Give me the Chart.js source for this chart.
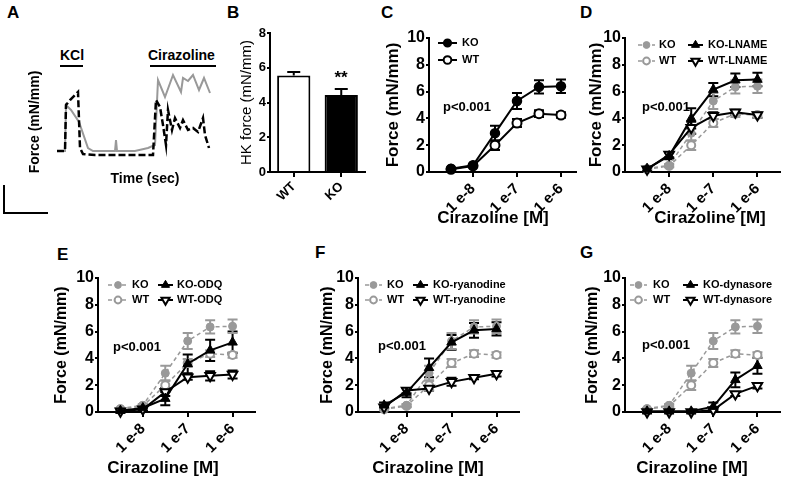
<!DOCTYPE html>
<html>
<head>
<meta charset="utf-8">
<script src="https://cdn.jsdelivr.net/npm/chart.js@4.4.1/dist/chart.umd.min.js"></script>
<style>
  body { margin: 0; width: 787px; height: 480px; position: relative; overflow: hidden; background: #fff;
         font-family: Arial, "Liberation Sans", sans-serif; }
  canvas { position: absolute; }
  .tag { position: absolute; font-weight: bold; font-size: 17px; line-height: 1; }
  .stim { position: absolute; font-weight: bold; font-size: 14px; line-height: 1; }
  .rule { position: absolute; background: #000; }
</style>
</head>
<body>
<div class="tag" style="left:7px;top:4px">A</div>
<div class="tag" style="left:227px;top:4px">B</div>
<div class="tag" style="left:381px;top:4px">C</div>
<div class="tag" style="left:580px;top:4px">D</div>
<div class="tag" style="left:57px;top:246px">E</div>
<div class="tag" style="left:315px;top:244px">F</div>
<div class="tag" style="left:580px;top:244px">G</div>

<div class="stim" style="left:60px;top:48px">KCl</div>
<div class="rule" style="left:60px;top:65px;width:23px;height:2px"></div>
<div class="stim" style="left:148px;top:48px">Cirazoline</div>
<div class="rule" style="left:150px;top:65px;width:66px;height:2px"></div>
<!-- scale bar -->
<div class="rule" style="left:3px;top:185px;width:1.5px;height:28px"></div>
<div class="rule" style="left:3px;top:212px;width:45px;height:1.5px"></div>

<canvas id="chartA"></canvas>
<canvas id="chartB"></canvas>
<canvas id="chartC"></canvas>
<canvas id="chartD"></canvas>
<canvas id="chartE"></canvas>
<canvas id="chartF"></canvas>
<canvas id="chartG"></canvas>

<script>
// ---- data ----
// A: force traces (time in s, force in mN/mm)
const traceKoTime  = [2, 10, 11, 16, 24, 33, 38, 60, 61, 62, 80, 93, 100, 103, 110, 118, 126, 128, 133, 138, 144, 149, 155];
const traceKoForce = [0.9, 0.9, 5.5, 5.0, 3.8, 1.2, 0.9, 0.9, 2.0, 0.9, 0.9, 1.2, 1.5, 8.0, 6.3, 8.5, 6.8, 8.2, 7.9, 8.5, 7.0, 8.2, 6.7];
const traceWtTime  = [2, 10, 11, 15, 23, 25, 28, 40, 98, 101, 105, 108, 111, 113, 117, 120, 125, 128, 133, 138, 143, 148, 150, 154];
const traceWtForce = [0.9, 0.9, 5.5, 6.0, 6.8, 1.2, 0.6, 0.5, 0.5, 6.0, 5.3, 3.5, 1.5, 5.0, 3.0, 4.2, 3.2, 4.0, 3.0, 3.2, 2.8, 4.2, 2.5, 1.2];

// B: HK force
const hkGroups = ['WT', 'KO'];
const hkForce = [5.55, 4.43];
const hkErr = [0.2, 0.35];

// C-G: cirazoline dose response, x = log10 [M]
const doseLog = [-8.5, -8, -7.5, -7, -6.5, -6];
const doseTicks = [-8, -7, -6];

const koForce = [0.25, 0.5, 2.9, 5.3, 6.35, 6.4];
const koErr   = [0.05, 0.1, 0.55, 0.6, 0.5, 0.5];
const wtForce = [0.2, 0.45, 2.0, 3.65, 4.35, 4.25];
const wtErr   = [0.05, 0.1, 0.35, 0.3, 0.25, 0.2];

const koLname    = [0.25, 1.2, 4.0, 6.15, 6.85, 6.9];
const koLnameErr = [0.1, 0.25, 0.75, 0.5, 0.5, 0.5];
const wtLname    = [0.2, 1.3, 3.3, 4.2, 4.45, 4.25];
const wtLnameErr = [0.1, 0.2, 0.45, 0.25, 0.2, 0.2];

const koOdq    = [0.1, 0.3, 1.0, 3.6, 4.6, 5.2];
const koOdqErr = [0.1, 0.2, 0.5, 0.7, 0.8, 0.8];
const wtOdq    = [0.05, 0.2, 1.5, 2.6, 2.7, 2.8];
const wtOdqErr = [0.05, 0.1, 0.3, 0.2, 0.35, 0.3];

const koRya    = [0.5, 1.45, 3.3, 5.2, 6.1, 6.2];
const koRyaErr = [0.2, 0.35, 0.7, 0.55, 0.55, 0.5];
const wtRya    = [0.35, 1.6, 1.75, 2.25, 2.55, 2.85];
const wtRyaErr = [0.1, 0.2, 0.15, 0.3, 0.1, 0.2];

const koDyn    = [0.05, 0.05, 0.05, 0.4, 2.4, 3.45];
const koDynErr = [0.05, 0.05, 0.05, 0.3, 0.55, 0.6];
const wtDyn    = [0.0, 0.0, 0.0, 0.15, 1.35, 1.95];
const wtDynErr = [0.02, 0.02, 0.02, 0.1, 0.15, 0.2];

// ---- styles ----
const FONT = 'Arial, "Liberation Sans", sans-serif';
const GRAY = '#999999';
Chart.defaults.font.family = FONT;
Chart.defaults.color = '#000';

const STY = {
  koBlack: {borderColor: '#000', pointBackgroundColor: '#000', pointBorderColor: '#000', pointStyle: 'circle', pointRadius: 4.5, pointBorderWidth: 1.5, borderWidth: 2},
  wtBlack: {borderColor: '#000', pointBackgroundColor: '#fff', pointBorderColor: '#000', pointStyle: 'circle', pointRadius: 4.5, pointBorderWidth: 2, borderWidth: 2},
  koGray:  {borderColor: GRAY, pointBackgroundColor: GRAY, pointBorderColor: GRAY, pointStyle: 'circle', pointRadius: 4, pointBorderWidth: 1, borderWidth: 1.5, borderDash: [4, 3]},
  wtGray:  {borderColor: GRAY, pointBackgroundColor: '#fff', pointBorderColor: GRAY, pointStyle: 'circle', pointRadius: 4, pointBorderWidth: 2, borderWidth: 1.5, borderDash: [4, 3]},
  koDrug:  {borderColor: '#000', pointBackgroundColor: '#000', pointBorderColor: '#000', pointStyle: 'triangle', pointRadius: 5.5, pointBorderWidth: 1, borderWidth: 2},
  wtDrug:  {borderColor: '#000', pointBackgroundColor: '#fff', pointBorderColor: '#000', pointStyle: 'triangle', pointRotation: 180, pointRadius: 5.5, pointBorderWidth: 2, borderWidth: 2}
};

const pts = (xs, ys) => xs.map((x, i) => ({x: x, y: ys[i]}));

function series(label, vals, errs, style) {
  return Object.assign({label: label, data: pts(doseLog, vals), errors: errs, clip: false, tension: 0}, STY[style]);
}

function place(id, box) {
  const c = document.getElementById(id);
  c.width = box.w;
  c.height = box.h;
  c.style.left = box.x + 'px';
  c.style.top = box.y + 'px';
  return c;
}

const axisLine = () => ({color: '#000', width: 2});
const tickMarks = len => ({display: true, drawOnChartArea: false, drawTicks: true, tickLength: len, color: '#000', lineWidth: 2});

// ---- plugins ----
function drawErrors(chart, opts) {
  const ctx = chart.ctx, yScale = chart.scales.y;
  chart.data.datasets.forEach((ds, i) => {
    if (!ds.errors) return;
    const meta = chart.getDatasetMeta(i);
    ctx.save();
    ctx.strokeStyle = ds.borderColor;
    ctx.lineWidth = opts.width || 2;
    ctx.setLineDash([]);
    meta.data.forEach((el, j) => {
      const raw = ds.data[j];
      const v = typeof raw === 'object' ? raw.y : raw;
      const e = ds.errors[j];
      const yHi = yScale.getPixelForValue(v + e);
      const yLo = yScale.getPixelForValue(opts.upOnly ? v : v - e);
      const c = opts.cap / 2;
      ctx.beginPath();
      ctx.moveTo(el.x, yLo); ctx.lineTo(el.x, yHi);
      ctx.moveTo(el.x - c, yHi); ctx.lineTo(el.x + c, yHi);
      if (!opts.upOnly) { ctx.moveTo(el.x - c, yLo); ctx.lineTo(el.x + c, yLo); }
      ctx.stroke();
    });
    ctx.restore();
  });
}

const errorBars = {
  id: 'errorBars',
  beforeDatasetsDraw(chart, args, opts) { if (!opts.onTop) drawErrors(chart, opts); },
  afterDatasetsDraw(chart, args, opts) { if (opts.onTop) drawErrors(chart, opts); }
};

// legend drawn inside the plot, line + marker like the original
const figLegend = {
  id: 'figLegend',
  afterDraw(chart, args, opts) {
    if (!opts.items) return;
    const ctx = chart.ctx;
    opts.items.forEach(it => {
      const ds = chart.data.datasets[it.ds];
      const col = opts.cols[it.col];
      const y = opts.rows[it.row] - opts.oy;
      const x0 = col.seg[0] - opts.ox, x1 = col.seg[1] - opts.ox;
      ctx.save();
      ctx.strokeStyle = ds.borderColor;
      ctx.lineWidth = ds.borderWidth;
      ctx.setLineDash(ds.borderDash || []);
      ctx.beginPath(); ctx.moveTo(x0, y); ctx.lineTo(x1, y); ctx.stroke();
      ctx.setLineDash([]);
      ctx.fillStyle = ds.pointBackgroundColor;
      ctx.strokeStyle = ds.pointBorderColor;
      ctx.lineWidth = ds.pointBorderWidth;
      Chart.helpers.drawPoint(ctx, {pointStyle: ds.pointStyle, rotation: ds.pointRotation || 0,
        radius: ds.pointRadius * 0.85, borderWidth: ds.pointBorderWidth}, (x0 + x1) / 2, y);
      ctx.fillStyle = '#000';
      ctx.font = 'bold 11px ' + FONT;
      ctx.textAlign = 'left';
      ctx.textBaseline = 'middle';
      ctx.fillText(ds.label, col.text - opts.ox, y);
      ctx.restore();
    });
  }
};

const notes = {
  id: 'notes',
  afterDraw(chart, args, opts) {
    const ctx = chart.ctx;
    (opts.items || []).forEach(n => {
      ctx.save();
      ctx.font = n.font;
      ctx.fillStyle = '#000';
      ctx.textAlign = n.align || 'left';
      ctx.textBaseline = n.baseline || 'middle';
      ctx.fillText(n.text, n.x - opts.ox, n.y - opts.oy);
      ctx.restore();
    });
  }
};

// ---- panel A ----
(function () {
  const box = {x: 20, y: 40, w: 220, h: 160};
  const area = {left: 55, top: 70, right: 235, bottom: 174};
  new Chart(place('chartA', box), {
    type: 'line',
    data: {datasets: [
      {label: 'WT', data: pts(traceWtTime, traceWtForce), borderColor: '#000', borderWidth: 2.5, borderDash: [7, 3], pointRadius: 0, clip: false},
      {label: 'KO', data: pts(traceKoTime, traceKoForce), borderColor: GRAY, borderWidth: 2, pointRadius: 0, clip: false}
    ]},
    options: {
      responsive: false, animation: false, events: [],
      layout: {padding: {left: 0, top: area.top - box.y, right: box.x + box.w - area.right, bottom: 0}},
      scales: {
        x: {type: 'linear', min: 0, max: 180, ticks: {display: false}, grid: {display: false}, border: {display: false},
            afterFit: s => { s.height = box.y + box.h - area.bottom; },
            title: {display: true, text: 'Time (sec)', font: {size: 14, weight: 'bold'},
                    padding: {top: 0, bottom: box.y + box.h - 179 - 8.4}}},
        y: {min: -1.4, max: 9, ticks: {display: false}, grid: {display: false}, border: {display: false},
            afterFit: s => { s.width = area.left - box.x; },
            title: {display: true, text: 'Force (mN/mm)', font: {size: 14, weight: 'bold'},
                    padding: {top: 35 - box.x - 8.4, bottom: 0}}}
      },
      plugins: {legend: {display: false}, tooltip: {enabled: false}}
    }
  });
})();

// ---- panel B ----
(function () {
  const box = {x: 225, y: 20, w: 150, h: 190};
  const area = {left: 270, top: 33, right: 365, bottom: 172};
  new Chart(place('chartB', box), {
    type: 'bar',
    data: {labels: hkGroups, datasets: [{label: 'HK force', data: hkForce, errors: hkErr,
      backgroundColor: ['#fff', '#000'], borderColor: '#000', borderWidth: 2,
      barPercentage: 0.7, categoryPercentage: 1}]},
    options: {
      responsive: false, animation: false, events: [],
      layout: {padding: {left: 0, top: area.top - box.y, right: box.x + box.w - area.right, bottom: 0}},
      scales: {
        x: {offset: true, grid: Object.assign(tickMarks(5), {offset: false}), border: axisLine(),
            afterFit: s => { s.height = box.y + box.h - area.bottom; },
            ticks: {minRotation: 45, maxRotation: 45, padding: 2, font: {size: 13, weight: 'bold'}}},
        y: {min: 0, max: 8, grid: tickMarks(3), border: axisLine(),
            afterFit: s => { s.width = area.left - box.x; },
            ticks: {stepSize: 2, padding: 1, font: {size: 13, weight: 'bold'}},
            title: {display: true, text: 'HK force (mN/mm)', font: {size: 15}, padding: {top: 247 - box.x - 9, bottom: 0}}}
      },
      plugins: {
        legend: {display: false}, tooltip: {enabled: false},
        errorBars: {cap: 13, width: 2, upOnly: true, onTop: true},
        notes: {ox: box.x, oy: box.y, items: [
          {text: '**', x: 341, y: 83, align: 'center', baseline: 'alphabetic', font: 'bold 17px ' + FONT}
        ]}
      }
    },
    plugins: [errorBars, notes]
  });
})();

// ---- panels C-G ----
function doseChart(id, box, area, o) {
  const cv = place(id, box);
  return new Chart(cv, {
    type: 'line',
    data: {datasets: o.datasets},
    options: {
      responsive: false, animation: false, events: [],
      layout: {padding: {left: 0, top: area.top - box.y, right: box.x + box.w - area.right, bottom: 0}},
      scales: {
        x: {type: 'linear', min: o.xMin, max: o.xMax,
            afterBuildTicks: s => { s.ticks = doseTicks.map(v => ({value: v})); },
            afterFit: s => { s.height = box.y + box.h - area.bottom; },
            grid: tickMarks(5), border: axisLine(),
            ticks: {autoSkip: false, minRotation: 45, maxRotation: 45, padding: 3,
                    font: {size: 15, weight: 'bold'}, callback: v => '1 e' + v}},
        y: {min: 0, max: 10,
            afterFit: s => { s.width = area.left - box.x; },
            grid: tickMarks(3), border: axisLine(),
            ticks: {stepSize: 2, padding: 1, font: {size: 16, weight: 'bold'}},
            title: {display: true, text: 'Force (mN/mm)', font: {size: o.yTitleSize, weight: 'bold'},
                    padding: {top: o.yTitleX - box.x - o.yTitleSize * 0.6, bottom: 0}}}
      },
      plugins: {
        legend: {display: false}, tooltip: {enabled: false},
        errorBars: {cap: 10, width: 2},
        figLegend: Object.assign({ox: box.x, oy: box.y}, o.legend),
        notes: {ox: box.x, oy: box.y, items: [
          {text: 'Cirazoline [M]', x: o.xTitle[0], y: o.xTitle[1], align: 'center', font: 'bold 17px ' + FONT},
          {text: 'p<0.001', x: o.pText[0], y: o.pText[1], font: 'bold 13px ' + FONT}
        ]}
      }
    },
    plugins: [errorBars, figLegend, notes]
  });
}

const fourLegend = (rows, c0, c1) => ({
  rows: rows,
  cols: [c0, c1],
  items: [{ds: 2, col: 0, row: 0}, {ds: 3, col: 0, row: 1}, {ds: 0, col: 1, row: 0}, {ds: 1, col: 1, row: 1}]
});

doseChart('chartC', {x: 378, y: 20, w: 204, h: 212}, {left: 429, top: 38, right: 577, bottom: 172}, {
  xMin: -9, xMax: -5.67, yTitleX: 393, yTitleSize: 17, xTitle: [493, 218], pText: [443, 107],
  datasets: [series('KO', koForce, koErr, 'koBlack'), series('WT', wtForce, wtErr, 'wtBlack')],
  legend: {rows: [43, 60], cols: [{seg: [438, 457], text: 462}],
           items: [{ds: 0, col: 0, row: 0}, {ds: 1, col: 0, row: 1}]}
});

doseChart('chartD', {x: 578, y: 20, w: 209, h: 212}, {left: 625, top: 38, right: 783, bottom: 172}, {
  xMin: -9, xMax: -5.5, yTitleX: 596, yTitleSize: 17, xTitle: [710, 218], pText: [642, 107],
  datasets: [series('KO-LNAME', koLname, koLnameErr, 'koDrug'), series('WT-LNAME', wtLname, wtLnameErr, 'wtDrug'),
             series('KO', koForce, koErr, 'koGray'), series('WT', wtForce, wtErr, 'wtGray')],
  legend: fourLegend([45, 61], {seg: [638, 655], text: 659}, {seg: [688, 703], text: 708})
});

doseChart('chartE', {x: 40, y: 240, w: 230, h: 240}, {left: 98, top: 278, right: 255, bottom: 412}, {
  xMin: -9, xMax: -5.5, yTitleX: 62, yTitleSize: 16, xTitle: [163, 468], pText: [113, 347],
  datasets: [series('KO-ODQ', koOdq, koOdqErr, 'koDrug'), series('WT-ODQ', wtOdq, wtOdqErr, 'wtDrug'),
             series('KO', koForce, koErr, 'koGray'), series('WT', wtForce, wtErr, 'wtGray')],
  legend: fourLegend([285, 300], {seg: [108, 128], text: 132}, {seg: [158, 173], text: 177})
});

doseChart('chartF', {x: 290, y: 240, w: 240, h: 240}, {left: 358, top: 278, right: 519, bottom: 412}, {
  xMin: -9.08, xMax: -5.5, yTitleX: 328, yTitleSize: 16, xTitle: [428, 468], pText: [378, 346],
  datasets: [series('KO-ryanodine', koRya, koRyaErr, 'koDrug'), series('WT-ryanodine', wtRya, wtRyaErr, 'wtDrug'),
             series('KO', koForce, koErr, 'koGray'), series('WT', wtForce, wtErr, 'wtGray')],
  legend: fourLegend([285, 300], {seg: [365, 382], text: 387}, {seg: [413, 428], text: 433})
});

doseChart('chartG', {x: 545, y: 240, w: 242, h: 240}, {left: 625, top: 278, right: 783, bottom: 412}, {
  xMin: -9, xMax: -5.5, yTitleX: 593, yTitleSize: 16, xTitle: [692, 468], pText: [642, 345],
  datasets: [series('KO-dynasore', koDyn, koDynErr, 'koDrug'), series('WT-dynasore', wtDyn, wtDynErr, 'wtDrug'),
             series('KO', koForce, koErr, 'koGray'), series('WT', wtForce, wtErr, 'wtGray')],
  legend: fourLegend([285, 300], {seg: [630, 647], text: 653}, {seg: [683, 698], text: 703})
});
</script>
</body>
</html>
